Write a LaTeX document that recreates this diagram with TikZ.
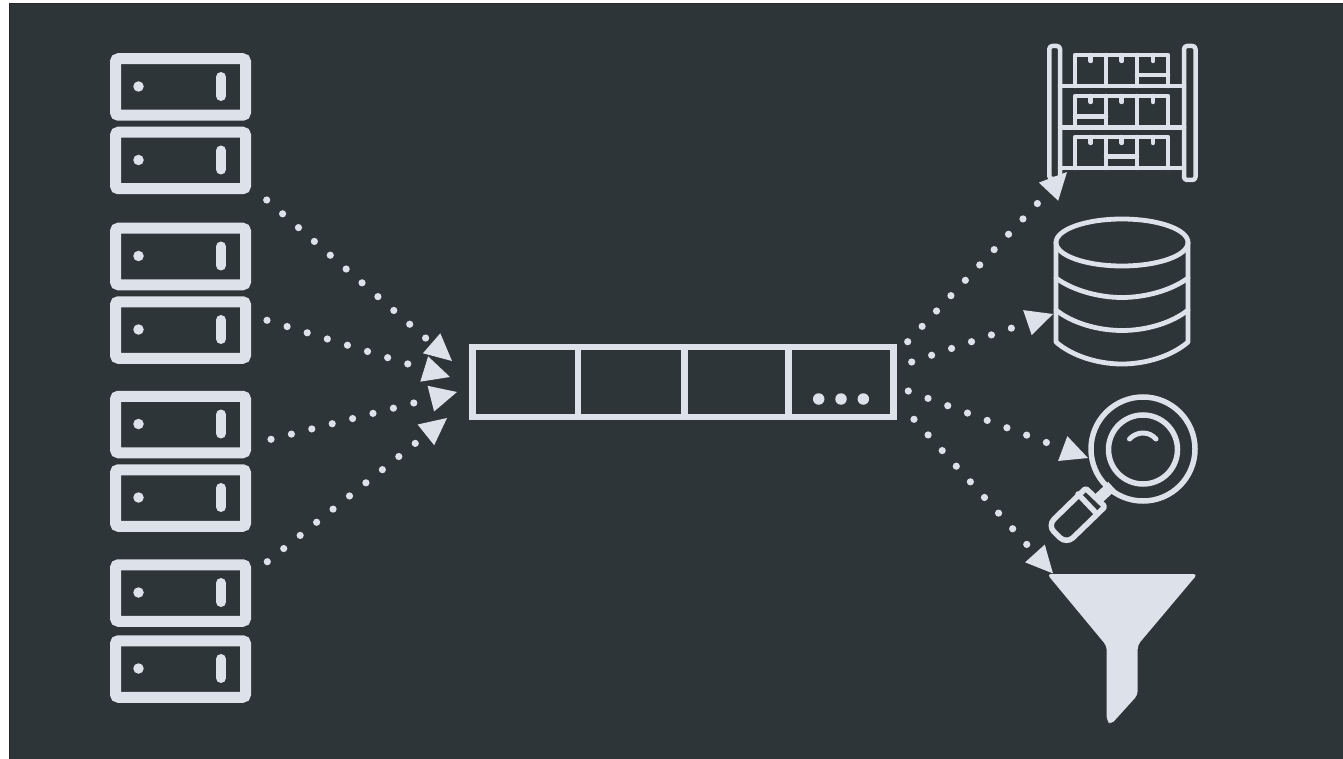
\documentclass[tikz,border=0pt]{standalone}
\usetikzlibrary{arrows.meta,shapes.geometric}
\definecolor{bgdark}{HTML}{2E3538}
\definecolor{icon}{HTML}{DDE1EA}
\tikzset{
  srvframe/.style={draw=icon,line width=11pt,rounded corners=3pt,minimum width=130pt,minimum height=56.5pt,inner sep=0pt},
  cellbox/.style={draw=icon,line width=6.5pt,minimum height=70pt,inner sep=0pt},
  flow/.style={draw=icon,line width=7.2pt,line cap=round,dash pattern=on 0pt off 21.05pt,
    -{Triangle[length=27pt,width=26.5pt,fill=icon,line width=0pt,line cap=butt]}},
  iconline/.style={draw=icon,line width=4.5pt,line join=round,line cap=round},
  dbline/.style={draw=icon,line width=4.8pt,line cap=round,line join=round},
  lensline/.style={draw=icon,line width=5.5pt,line join=round,line cap=round},
  blip/.style={circle,fill=icon,inner sep=0pt,minimum size=11.5pt}
}
\newcommand{\srvunit}[2]{%
  \node[srvframe] (#1) at (180.5,#2) {};
  \node[blip,minimum size=10.5pt] (#1dot) at (138.5,#2-0.5) {};
  \draw[icon,line width=10pt,line cap=round] (221,#2-10) -- (221,#2+9);
}
\newcommand{\shelfrow}[3]{% top, bottom, split description
  \draw[iconline] (1075,#2) -- (1075,#1) -- (1168,#1) -- (1168,#2)
    (1106,#1) -- (1106,#2) (1137,#1) -- (1137,#2)
    (1090.7,#1) -- (1090.7,#1+6) (1121.7,#1) -- (1121.7,#1+6) (1153,#1) -- (1153,#1+6);
  #3
}
\begin{document}
\begin{tikzpicture}[x=1pt,y=-1pt]
\useasboundingbox (0,0) rectangle (1343,759);
\fill[white] (0,0) rectangle (1343,759);
\fill[black!85] (9,3) rectangle (1343,759);
\fill[bgdark] (10,4.5) rectangle (1343,759);

% servers
\srvunit{s1}{87}
\srvunit{s2}{160.5}
\srvunit{s3}{256.5}
\srvunit{s4}{330}
\srvunit{s5}{424.5}
\srvunit{s6}{498}
\srvunit{s7}{593}
\srvunit{s8}{669}

% queue
\node[cellbox,minimum width=105.5pt] (c1) at (525.25,382) {};
\node[cellbox,minimum width=106.5pt] (c2) at (631.25,382) {};
\node[cellbox,minimum width=104pt] (c3) at (736.5,382) {};
\node[cellbox,minimum width=105pt] (c4) at (841,382) {};
\node[blip] (d1) at (818.7,399) {};
\node[blip] (d2) at (841,399) {};
\node[blip] (d3) at (863.3,399) {};

% shelves
\draw[iconline,rounded corners=3pt] (1049.3,46) rectangle (1060,179);
\draw[iconline,rounded corners=3pt] (1184,46) rectangle (1195.5,180);
\draw[iconline] (1060,86) -- (1184,86) (1060,127.5) -- (1184,127.5) (1060,168) -- (1184,168);
\shelfrow{55}{86}{\draw[iconline] (1137,75) -- (1168,75);}
\shelfrow{96}{127.5}{\draw[iconline] (1075,116.7) -- (1106,116.7);}
\shelfrow{137}{168}{\draw[iconline] (1106,156.7) -- (1137,156.7);}

% database
\node[draw=icon,line width=4.8pt,ellipse,minimum width=132pt,minimum height=47pt,inner sep=0pt] (db) at (1122,242.5) {};
\draw[dbline] (1056,242.5) -- (1056,342) .. controls (1072,356) and (1098,364) .. (1122,364)
  .. controls (1146,364) and (1172,356) .. (1188,342) -- (1188,242.5);
\draw[dbline] (1056,278) .. controls (1072,290) and (1098,297.5) .. (1122,297.5) .. controls (1146,297.5) and (1172,290) .. (1188,278);
\draw[dbline] (1056,310) .. controls (1072,323) and (1098,330.5) .. (1122,330.5) .. controls (1146,330.5) and (1172,323) .. (1188,310);

% magnifier
\node[draw=icon,line width=5.5pt,circle,minimum size=104pt,inner sep=0pt] (lensA) at (1143,449) {};
\node[draw=icon,line width=5.5pt,circle,minimum size=69pt,inner sep=0pt] (lensB) at (1143,449.5) {};
\draw[lensline,line width=5pt] (1129.5,439) .. controls (1137,431) and (1149,431) .. (1156,439);
\draw[icon,line width=11pt] (1112,486) -- (1098,499);
\draw[lensline] [rounded corners=2pt] (1085.7,488.3) -- (1105,506.7) [rounded corners=9pt] -- (1066.5,544) -- (1047.5,525.5) [rounded corners=2pt] -- cycle;
\draw[lensline] (1078,494) -- (1096,513);

% funnel
\fill[icon,rounded corners=4pt] (1047,574) -- (1197.5,574) -- (1137.7,645) -- (1137.7,695) -- (1111,724.5) -- (1106.7,721) -- (1106.7,646) -- cycle;

% connector ends
\coordinate (a1) at (266.7,200);
\coordinate (a2) at (267,320.3);
\coordinate (a3) at (271,439.3);
\coordinate (a4) at (267.3,561.7);
\coordinate (t1) at (452,361);
\coordinate (t2) at (450,377);
\coordinate (t3) at (457,392);
\coordinate (t4) at (447,418);
\coordinate (b1) at (907.7,341.7);
\coordinate (b2) at (911.7,362);
\coordinate (b3) at (908.3,391);
\coordinate (b4) at (914,419.3);
\coordinate (u1) at (1067,172);
\coordinate (u2) at (1053,314);
\coordinate (u3) at (1088,458);
\coordinate (u4) at (1053,573.5);

\draw[flow] (a1) -- (t1);
\draw[flow] (a2) -- (t2);
\draw[flow] (a3) -- (t3);
\draw[flow] (a4) -- (t4);
\draw[flow] (b1) -- (u1);
\draw[flow] (b2) -- (u2);
\draw[flow] (b3) -- (u3);
\draw[flow] (b4) -- (u4);
\end{tikzpicture}
\end{document}
